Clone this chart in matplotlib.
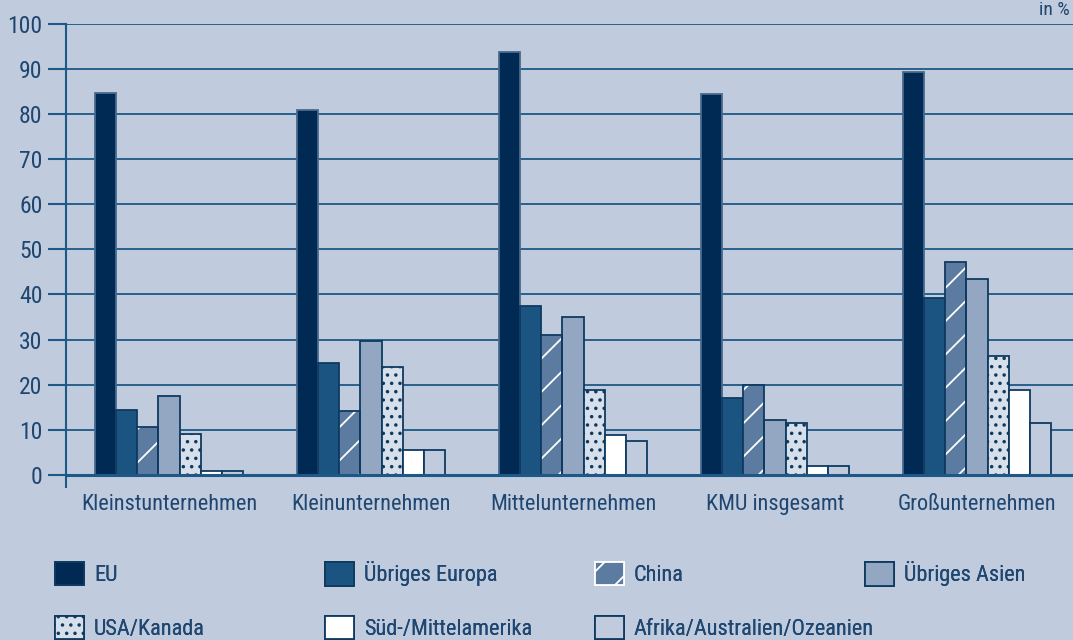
import matplotlib
matplotlib.use("Agg")
import matplotlib.pyplot as plt
from matplotlib import font_manager
from matplotlib.patches import Patch
import numpy as np

# --- data (shares in %) ---
categories = ["Kleinstunternehmen", "Kleinunternehmen", "Mittelunternehmen",
              "KMU insgesamt", "Großunternehmen"]
series_names = ["EU", "Übriges Europa", "China", "Übriges Asien",
                "USA/Kanada", "Süd-/Mittelamerika", "Afrika/Australien/Ozeanien"]
eu = [84.8, 81.0, 93.8, 84.5, 89.3]
uebriges_europa = [14.4, 24.7, 37.5, 17.0, 39.2]
china = [10.6, 14.2, 31.0, 20.0, 47.2]
uebriges_asien = [17.5, 29.6, 34.9, 12.2, 43.5]
usa_kanada = [9.1, 24.0, 18.9, 11.5, 26.4]
sued_mittelamerika = [0.9, 5.6, 8.8, 2.0, 18.9]
afrika_ozeanien = [0.9, 5.6, 7.5, 2.0, 11.6]
y_ticks = list(range(0, 101, 10))

series = [eu, uebriges_europa, china, uebriges_asien,
          usa_kanada, sued_mittelamerika, afrika_ozeanien]

# --- styling ---
BG = "#C0CBDD"
GRID = "#1D5886"
TEXT = "#1E4670"
EDGE = "#0F3A60"
fills = ["#002A54", "#1B5480", "#5B7BA0", "#94A7C2", "#D6DFEA", "#FFFFFF", BG]
edges = ["#4A6A8E", EDGE, EDGE, EDGE, EDGE, EDGE, EDGE]

names = {f.name for f in font_manager.fontManager.ttflist}
family = "Roboto Condensed" if "Roboto Condensed" in names else "Roboto"
FS = 16 if family == "Roboto Condensed" else 14
plt.rcParams["font.family"] = [family, "DejaVu Sans"]
plt.rcParams["hatch.linewidth"] = 1.3

DPI = 100
fig = plt.figure(figsize=(1073 / DPI, 640 / DPI), dpi=DPI, facecolor=BG)
ax = fig.add_axes([66 / 1073, 1 - 487 / 640, 1010 / 1073, 463 / 640])
ax.set_facecolor(BG)

n = len(series)
w = 0.105
x = np.arange(len(categories))

for j, vals in enumerate(series):
    pos = x + (j - (n - 1) / 2) * w
    if j == 2:
        # white diagonal hatch, then dark outline on top
        ax.bar(pos, vals, w, color=fills[j], edgecolor="white", hatch="/",
               linewidth=0, zorder=3)
        ax.bar(pos, vals, w, fill=False, edgecolor=edges[j], linewidth=1.3, zorder=4)
    elif j == 4:
        ax.bar(pos, vals, w, color=fills[j], edgecolor=edges[j], hatch="..",
               linewidth=1.3, zorder=3)
    else:
        ax.bar(pos, vals, w, color=fills[j], edgecolor=edges[j],
               linewidth=1.3, zorder=3)

ax.set_xlim(-0.51, len(categories) - 0.51)
ax.set_ylim(-2.7, 100)
ax.set_yticks(y_ticks)
ax.set_yticklabels([str(t) for t in y_ticks], fontsize=FS + 1, color=TEXT)
ax.set_xticks(x)
ax.set_xticklabels(categories, fontsize=FS, color=TEXT)
ax.tick_params(axis="x", length=0, pad=5)
ax.tick_params(axis="y", length=13, width=1.5, color=GRID, pad=4)

for t in y_ticks:
    ax.axhline(t, color=GRID, linewidth=2.2 if t == 0 else 1.3, zorder=1 if t else 5)

for s in ["top", "right", "bottom"]:
    ax.spines[s].set_visible(False)
ax.spines["left"].set_color(GRID)
ax.spines["left"].set_linewidth(1.5)

fig.text(1070 / 1073, 1 - 1 / 640, "in %", fontsize=FS - 2, color=TEXT,
         ha="right", va="top")

# --- legend: two rows, four fixed columns ---
handles = [
    Patch(facecolor=fills[0], edgecolor=EDGE, linewidth=1.3),
    Patch(facecolor=fills[1], edgecolor=EDGE, linewidth=1.3),
    Patch(facecolor=fills[2], edgecolor="white", hatch="/", linewidth=1.3),
    Patch(facecolor=fills[3], edgecolor=EDGE, linewidth=1.3),
    Patch(facecolor=fills[4], edgecolor=EDGE, hatch="..", linewidth=1.3),
    Patch(facecolor=fills[5], edgecolor=EDGE, linewidth=1.3),
    Patch(facecolor=fills[6], edgecolor=EDGE, linewidth=1.3),
]
col_x = [55, 325, 595, 865]
row_y = [574, 628]
for k, (h, label) in enumerate(zip(handles, series_names)):
    r, c = divmod(k, 4)
    leg = fig.legend([h], [label], loc="center left",
                     bbox_to_anchor=(col_x[c] / 1073, 1 - row_y[r] / 640),
                     frameon=False, fontsize=FS, handlelength=1.3,
                     handleheight=1.25, handletextpad=0.45, borderpad=0,
                     borderaxespad=0, labelcolor=TEXT)
    fig.add_artist(leg)

fig.savefig("out.png", dpi=DPI, facecolor=BG)
